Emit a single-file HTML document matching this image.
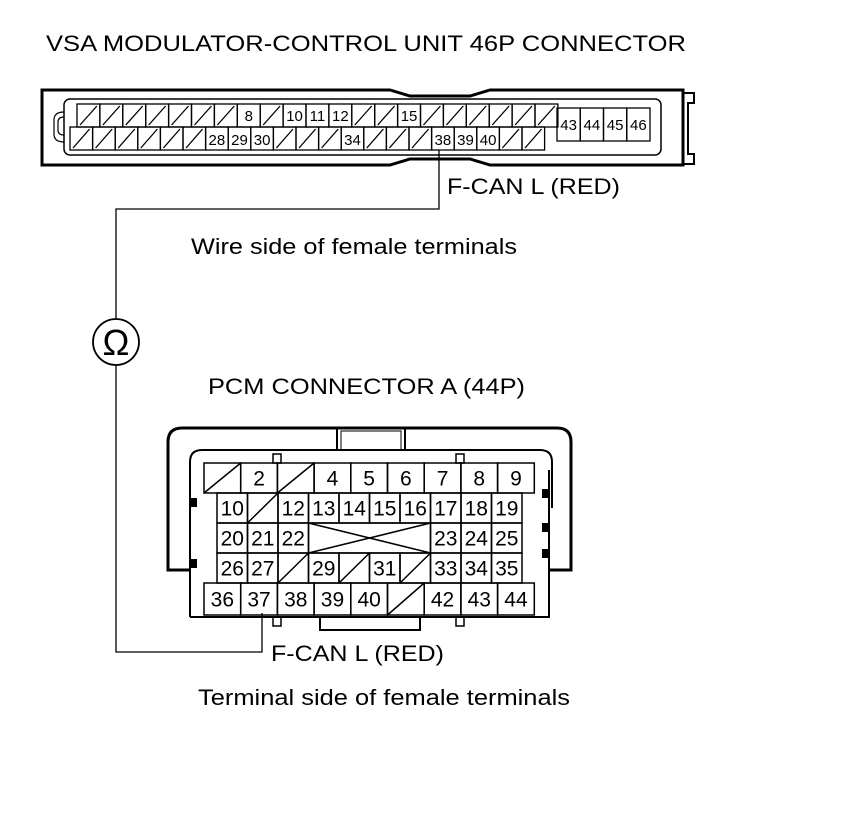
<!DOCTYPE html>
<html><head><meta charset="utf-8"><style>
html,body{margin:0;padding:0;background:#fff;}
svg{display:block;font-family:"Liberation Sans",Arial,sans-serif;}
</style></head><body>
<svg width="860" height="838" viewBox="0 0 860 838" xmlns="http://www.w3.org/2000/svg">
<g font-size="22" fill="#000">
<text x="46" y="51" textLength="640" lengthAdjust="spacingAndGlyphs">VSA MODULATOR-CONTROL UNIT 46P CONNECTOR</text>
<text x="447" y="194" textLength="173" lengthAdjust="spacingAndGlyphs">F-CAN L (RED)</text>
<text x="191" y="254" textLength="326" lengthAdjust="spacingAndGlyphs">Wire side of female terminals</text>
<text x="208" y="394" textLength="317" lengthAdjust="spacingAndGlyphs">PCM CONNECTOR A (44P)</text>
<text x="271" y="661" textLength="173" lengthAdjust="spacingAndGlyphs">F-CAN L (RED)</text>
<text x="198" y="705" textLength="372" lengthAdjust="spacingAndGlyphs">Terminal side of female terminals</text>
</g>
<g fill="none" stroke="#000">
<path d="M42 90 H390 L410 96 H470 L490 90 H683 V165 H490 L470 159 H410 L390 165 H42 Z" stroke-width="3"/>
<path d="M683 93 H694 V103 H688 V154 H694 V164 H683" stroke-width="2"/>
<rect x="64" y="99" width="597" height="56" rx="6" stroke-width="1.5"/>
<path d="M64 112 q-10 0 -10 8 v14 q0 8 10 8 M64 117 q-6 0 -6 5 v8 q0 5 6 5" stroke-width="1.2"/>
<g stroke-width="1.3" id="top"></g>
<path d="M439 150 V209 H116 V319 M116 365 V652 H262 V613" stroke-width="1.3"/>
<circle cx="116" cy="342" r="23" stroke-width="1.8"/>
<path d="M190 570 H168 V442 Q168 428 182 428 H557 Q571 428 571 442 V570 H549" stroke-width="3"/>
<path d="M190 617 V462 Q190 450 202 450 H540 Q552 450 552 462 V508" stroke-width="2"/>
<path d="M190 617 H549 V470" stroke-width="2"/>
<rect x="337" y="428" width="68" height="22" stroke-width="2"/>
<rect x="341" y="431" width="60" height="19" stroke-width="1"/>
<rect x="273" y="454" width="8" height="9" stroke-width="1.5"/>
<rect x="456" y="454" width="8" height="9" stroke-width="1.5"/>
<rect x="273" y="617" width="8" height="9" stroke-width="1.5"/>
<rect x="456" y="617" width="8" height="9" stroke-width="1.5"/>
<path d="M320 617 V630 H420 V617" stroke-width="2"/>
<g stroke-width="1.5" id="pcm"></g>
</g>
<g fill="#000">
<rect x="190" y="498" width="7" height="9"/><rect x="190" y="559" width="7" height="9"/>
<rect x="542" y="489" width="7" height="9"/><rect x="542" y="523" width="7" height="9"/><rect x="542" y="549" width="7" height="9"/>
</g>
<text x="116" y="355" font-size="36" text-anchor="middle">Ω</text>
<g id="labels" font-size="15" text-anchor="middle"></g>
<g id="plabels" font-size="21" text-anchor="middle"></g>
</svg>
<script>
var NS="http://www.w3.org/2000/svg";
function el(p,t,a,txt){var e=document.createElementNS(NS,t);for(var k in a)e.setAttribute(k,a[k]);if(txt!=null)e.textContent=txt;document.getElementById(p).appendChild(e);}
var tl={8:1,10:1,11:1,12:1,15:1};
var w=22.9;
for(var i=0;i<21;i++){var x=77+i*w,n=i+1;el("top","rect",{x:x,y:104,width:w,height:23});
 if(tl[n])el("labels","text",{x:x+w/2,y:121},n);else el("top","line",{x1:x+3,y1:125,x2:x+w-3,y2:106});}
var w2=22.6, bl={28:1,29:1,30:1,34:1,38:1,39:1,40:1};
for(var i=0;i<21;i++){var x=70+i*w2,n=22+i;el("top","rect",{x:x,y:127,width:w2,height:23});
 if(bl[n])el("labels","text",{x:x+w2/2,y:145},n);else el("top","line",{x1:x+3,y1:148,x2:x+w2-3,y2:129});}
for(var i=0;i<4;i++){var x=557+i*23.25;el("top","rect",{x:x,y:108,width:23.25,height:33});el("labels","text",{x:x+11.6,y:130},43+i);}
function cell(x,y,w,h,lab){el("pcm","rect",{x:x,y:y,width:w,height:h});
 if(lab==="/")el("pcm","line",{x1:x,y1:y+h,x2:x+w,y2:y});else if(lab!=="")el("plabels","text",{x:x+w/2,y:y+h/2+7.5},lab);}
var r1=["/","2","/","4","5","6","7","8","9"],W=36.7;
r1.forEach(function(l,i){cell(204+i*W,463,W,30,l);});
var cw=30.5;
["10","/","12","13","14","15","16","17","18","19"].forEach(function(l,i){cell(217+i*cw,493,cw,30,l);});
["20","21","22",null,null,null,null,"23","24","25"].forEach(function(l,i){if(l)cell(217+i*cw,523,cw,30,l);});
var xs=217+3*cw,xe=217+7*cw;el("pcm","rect",{x:xs,y:523,width:xe-xs,height:30});
el("pcm","line",{x1:xs,y1:523,x2:xe,y2:553});el("pcm","line",{x1:xs,y1:553,x2:xe,y2:523});
["26","27","/","29","/","31","/","33","34","35"].forEach(function(l,i){cell(217+i*cw,553,cw,30,l);});
["36","37","38","39","40","/","42","43","44"].forEach(function(l,i){cell(204+i*W,583,W,32,l);});
</script>
</body></html>
